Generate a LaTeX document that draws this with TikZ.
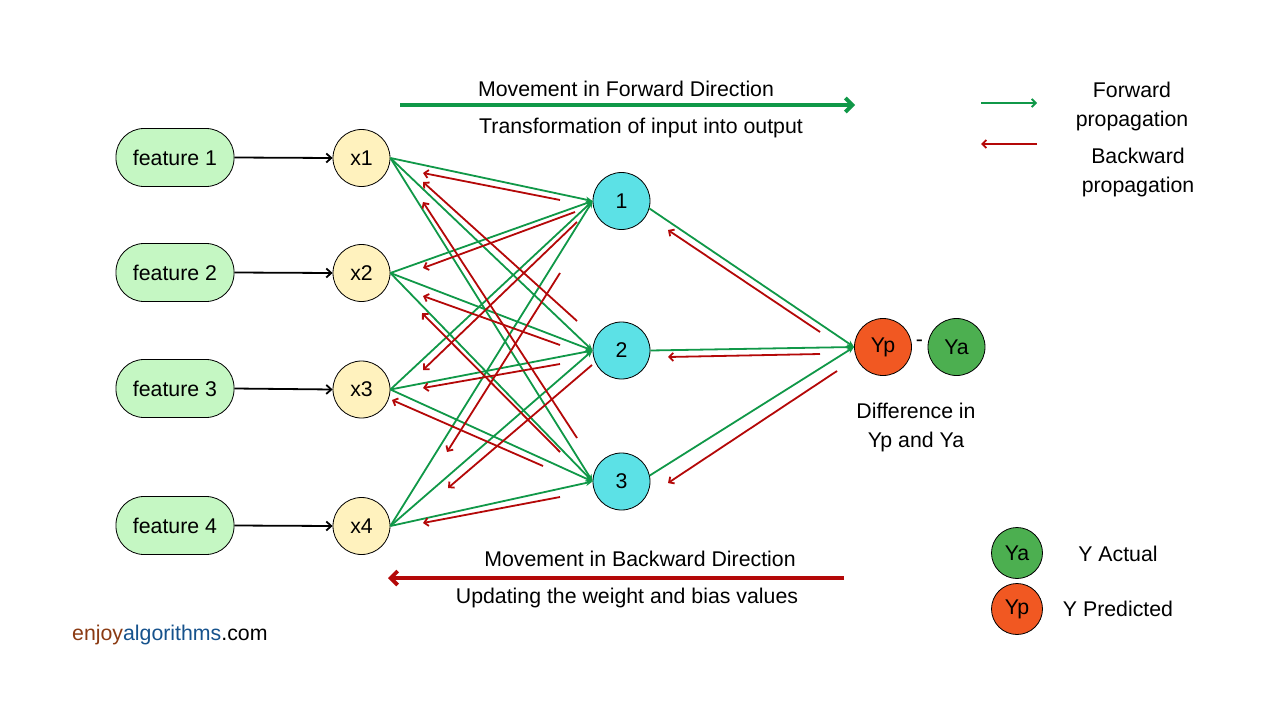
\documentclass[tikz,border=0pt]{standalone}
\usepackage{fontspec}
\setmainfont{Liberation Sans}
\usetikzlibrary{arrows.meta}
\definecolor{featfill}{RGB}{197,247,195}
\definecolor{xfill}{RGB}{255,242,190}
\definecolor{hfill}{RGB}{92,225,230}
\definecolor{ypfill}{RGB}{241,88,34}
\definecolor{yafill}{RGB}{76,175,80}
\definecolor{fwdgreen}{RGB}{16,152,72}
\definecolor{backred}{RGB}{180,8,8}
\definecolor{logobrown}{RGB}{139,58,18}
\definecolor{logoblue}{RGB}{22,82,140}
\tikzset{
  feat/.style={draw=black, line width=0.8pt, fill=featfill, rounded corners=28pt, minimum width=118pt, minimum height=58pt, inner sep=0pt},
  xnode/.style={draw=black, line width=0.8pt, fill=xfill, circle, minimum size=57pt, inner sep=0pt},
  hnode/.style={draw=black, line width=0.8pt, fill=hfill, circle, minimum size=57pt, inner sep=0pt},
  ypnode/.style={draw=black, line width=0.8pt, fill=ypfill, circle, minimum size=57pt, inner sep=0pt},
  yanode/.style={draw=black, line width=0.8pt, fill=yafill, circle, minimum size=57pt, inner sep=0pt},
  inarrow/.style={draw=black, line width=1.8pt, -{Straight Barb[length=5pt,width=9pt]}},
  fwd/.style={draw=fwdgreen, line width=1.8pt, -{Stealth[length=7pt,width=6pt]}},
  back/.style={draw=backred, line width=1.8pt, -{Straight Barb[length=4pt,width=8pt]}},
  bigfwd/.style={draw=fwdgreen, line width=3.8pt, -{Straight Barb[length=7pt,width=14pt]}},
  bigback/.style={draw=backred, line width=3.8pt, -{Straight Barb[length=7pt,width=14pt]}},
  txt/.style={inner sep=0pt, align=center}
}
\begin{document}
\begin{tikzpicture}[x=1pt,y=-1pt,font=\fontsize{21.3}{29}\selectfont]
\useasboundingbox[fill=white] (0,0) rectangle (1280,720);

% input features
\node[feat] (f1) at (175,157.5) {feature 1};
\node[feat] (f2) at (175,272.5) {feature 2};
\node[feat] (f3) at (175,388.5) {feature 3};
\node[feat] (f4) at (175,525.5) {feature 4};

% input nodes
\node[xnode] (x1) at (361.5,158) {x1};
\node[xnode] (x2) at (361.5,273) {x2};
\node[xnode] (x3) at (361.5,389.5) {x3};
\node[xnode] (x4) at (361.5,526) {x4};

% hidden nodes
\node[hnode] (h1) at (621.5,201) {1};
\node[hnode] (h2) at (621.5,350.5) {2};
\node[hnode] (h3) at (621.5,481.5) {3};

% output
\node[ypnode] (yp) at (883,347) {Yp};
\node[yanode] (ya) at (956.5,347) {Ya};
\node[txt] (minus) at (919.5,343) {-};
\node[txt] (diff) at (916,427) {Difference in\\Yp and Ya};

% feature -> x
\draw[inarrow] (f1.east) -- (x1.west);
\draw[inarrow] (f2.east) -- (x2.west);
\draw[inarrow] (f3.east) -- (x3.west);
\draw[inarrow] (f4.east) -- (x4.west);

% forward connections x -> h
\foreach \i in {1,2,3,4}{
  \foreach \j in {1,2,3}{
    \draw[fwd] (x\i.east) -- (h\j.west);
  }
}
% forward h -> yp
\draw[fwd] (h1.-15) -- (yp.west);
\draw[fwd] (h2.east) -- (yp.west);
\draw[fwd] (h3.12) -- (yp.west);

% backward arrows
\draw[back] (560,200) -- (423,173);
\draw[back] (577,321) -- (423,182);
\draw[back] (577,438) -- (423,202);
\draw[back] (575,212) -- (423,268);
\draw[back] (560,345) -- (423,296);
\draw[back] (560,452) -- (422,313);
\draw[back] (577,222) -- (423,370);
\draw[back] (560,364) -- (423,388);
\draw[back] (543,466) -- (392,400);
\draw[back] (560,273) -- (447,452);
\draw[back] (592,365) -- (448,488);
\draw[back] (560,497) -- (423,523);
\draw[back] (820,332) -- (668,230);
\draw[back] (820,354) -- (668,357);
\draw[back] (837,371) -- (668,483);

% top movement arrow
\coordinate (tfs) at (400,105);
\coordinate (tfe) at (855,105);
\draw[bigfwd] (tfs) -- (tfe);
\node[txt] (tft) at (626,89) {Movement in Forward Direction};
\node[txt] (tfb) at (641,128) {Transformation of input into output};

% bottom movement arrow
\coordinate (bbs) at (844,578);
\coordinate (bbe) at (388,578);
\draw[bigback] (bbs) -- (bbe);
\node[txt] (bbt) at (640,559) {Movement in Backward Direction};
\node[txt] (bbb) at (627,598) {Updating the weight and bias values};

% legend top
\coordinate (lgs) at (981,103);
\coordinate (lge) at (1037,103);
\draw[fwd,-{Straight Barb[length=4pt,width=8pt]}] (lgs) -- (lge);
\node[txt] (lgt) at (1132,106) {Forward\\propagation};
\coordinate (lrs) at (1037,144);
\coordinate (lre) at (981,144);
\draw[back] (lrs) -- (lre);
\node[txt] (lrt) at (1138,172) {Backward\\propagation};

% legend bottom
\node[yanode, minimum size=51pt] (lya) at (1017,553) {Ya};
\node[txt] (lyat) at (1118,554) {Y Actual};
\node[ypnode, minimum size=51pt] (lyp) at (1017,609) {Yp};
\node[txt] (lypt) at (1118,609) {Y Predicted};

% logo
\node[txt, anchor=west] (logo) at (72,635) {\textcolor{logobrown}{enjoy}\textcolor{logoblue}{algorithms}.com};
\end{tikzpicture}
\end{document}
